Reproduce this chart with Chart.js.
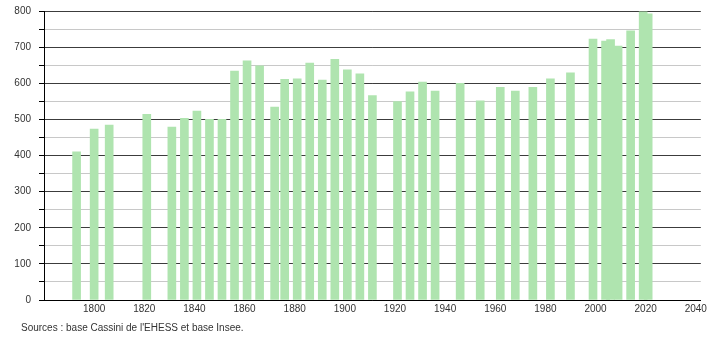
<!DOCTYPE html>
<html>
<head>
<meta charset="utf-8">
<script src="https://cdn.jsdelivr.net/npm/chart.js@4/dist/chart.umd.min.js"></script>
<style>
  html, body { margin: 0; padding: 0; background: #fff; }
  #wrap { position: relative; width: 710px; height: 340px; }
  #note { position: absolute; left: 21px; top: 322px; font: 10px "Liberation Sans", Arial, sans-serif; color: #333; }
</style>
</head>
<body>
<div id="wrap">
  <canvas id="chart" width="710" height="340"></canvas>
  <div id="note">Sources : base Cassini de l'EHESS et base Insee.</div>
</div>
<script>
// Census years and population
const years = [1793, 1800, 1806, 1821, 1831, 1836, 1841, 1846, 1851, 1856,
  1861, 1866, 1872, 1876, 1881, 1886, 1891, 1896, 1901, 1906,
  1911, 1921, 1926, 1931, 1936, 1946, 1954, 1962, 1968, 1975,
  1982, 1990, 1999, 2004, 2006, 2009, 2014, 2019, 2021];
const population = [410, 473, 484, 514, 479, 503, 523, 500, 500, 634,
  662, 648, 534, 611, 612, 656, 609, 666, 637, 626,
  566, 549, 576, 603, 578, 600, 551, 589, 578, 589,
  612, 629, 722, 717, 721, 703, 745, 798, 792];
const xTicks = [1800, 1820, 1840, 1860, 1880, 1900, 1920, 1940, 1960, 1980, 2000, 2020, 2040];

const points = years.map((y, i) => ({ x: y, y: population[i] }));

const ctx = document.getElementById('chart').getContext('2d');
new Chart(ctx, {
  type: 'bar',
  data: {
    datasets: [{
      data: points,
      backgroundColor: '#afe4af',
      borderWidth: 0,
      barThickness: 8
    }]
  },
  options: {
    responsive: false,
    animation: false,
    plugins: { legend: { display: false }, tooltip: { enabled: false } },
    layout: { padding: { top: 11, right: 9, left: 0, bottom: 0 } },
    scales: {
      x: {
        type: 'linear',
        offset: false,
        min: 1780,
        max: 2042,
        afterBuildTicks: s => { s.ticks = xTicks.map(v => ({ value: v })); },
        afterFit: s => { s.height = 40; },
        grid: { display: false, offset: false, drawTicks: false, tickLength: 0 },
        border: { color: '#000', width: 1 },
        ticks: {
          color: '#333',
          padding: 3,
          maxRotation: 0,
          autoSkip: false,
          font: { family: '"Liberation Sans", Arial, sans-serif', size: 10 },
          callback: v => String(v)
        }
      },
      y: {
        min: 0,
        max: 800,
        afterFit: s => { s.width = 44; s.paddingTop = 0; s.paddingBottom = 0; },
        border: { color: '#000', width: 1 },
        grid: {
          color: c => (c.tick.value % 100 === 0 ? '#3c3c3c' : '#c8c8c8'),
          tickColor: '#000',
          tickLength: 5
        },
        ticks: {
          stepSize: 50,
          color: '#333',
          padding: 8,
          font: { family: '"Liberation Sans", Arial, sans-serif', size: 10, lineHeight: 1 },
          callback: v => (v % 100 === 0 ? String(v) : '')
        }
      }
    }
  }
});
</script>
</body>
</html>
